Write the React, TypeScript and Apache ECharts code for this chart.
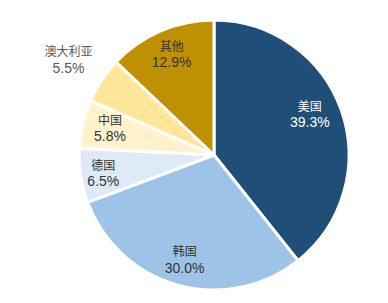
import React, { useEffect, useRef } from "react";
import * as echarts from "echarts";

const categories = ["美国", "韩国", "德国", "中国", "澳大利亚", "其他"];
const values = [39.3, 30.0, 6.5, 5.8, 5.5, 12.9];
const colors = ["#1f4e79", "#9dc3e6", "#deebf7", "#fff2cc", "#ffe699", "#bf9000"];
const labelColors = ["#ffffff", "#333333", "#333333", "#333333", "#595959", "#333333"];
const labelOffsets = [[-8, -5], [0, -2], [-2, 1], [3, -2], [-54, -35], [1, 0]];

export default function App() {
  const ref = useRef<HTMLDivElement>(null);
  useEffect(() => {
    if (!ref.current) return;
    const chart = echarts.init(ref.current, null, { renderer: "svg" });
    const center = [214, 155];
    const mainData = categories.map((name, i) => ({
      name,
      value: values[i],
      itemStyle: { color: colors[i] },
    }));
    const labelData = categories.map((name, i) => ({
      name,
      value: values[i],
      label: {
        color: labelColors[i],
        offset: labelOffsets[i],
      },
    }));
    chart.setOption({
      animation: false,
      series: [
        {
          type: "pie",
          center,
          radius: [0, 135],
          startAngle: 90,
          clockwise: true,
          silent: true,
          label: { show: false },
          labelLine: { show: false },
          itemStyle: { borderColor: "#ffffff", borderWidth: 3 },
          data: mainData,
        },
        {
          type: "pie",
          center,
          radius: [79, 135],
          startAngle: 90,
          clockwise: true,
          silent: true,
          itemStyle: { color: "rgba(0,0,0,0)", borderWidth: 0 },
          labelLine: { show: false },
          label: {
            show: true,
            position: "inside",
            formatter: (p: any) => `{n|${p.name}}\n{v|${p.value.toFixed(1)}%}`,
            rich: {
              n: {
                fontFamily: "Noto Sans CJK SC",
                fontSize: 12,
                lineHeight: 17,
              },
              v: {
                fontFamily: "Liberation Sans, Arial, sans-serif",
                fontSize: 14,
                lineHeight: 17,
              },
            },
          },
          data: labelData,
        },
      ],
    });
    return () => chart.dispose();
  }, []);
  return (
    <div
      ref={ref}
      style={{ position: "fixed", left: 0, top: 0, width: 388, height: 303, background: "#ffffff" }}
    />
  );
}
